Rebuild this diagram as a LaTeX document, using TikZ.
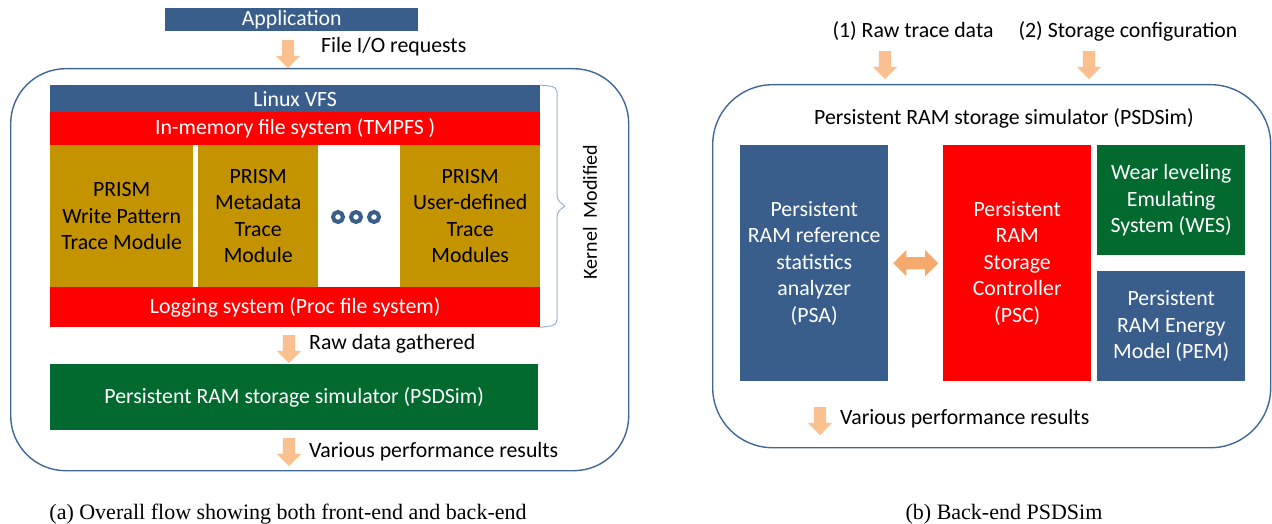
\documentclass[tikz,border=0pt]{standalone}
\usepackage{fontspec}
\setmainfont{Carlito}
\newfontfamily\capfont{Liberation Serif}
\usepackage{tikz}
\usepackage{xcolor}
\usetikzlibrary{calc,shapes.arrows}
\definecolor{vfsblue}{HTML}{3A5E8C}
\definecolor{fsred}{HTML}{FF0000}
\definecolor{prismgold}{HTML}{C49300}
\definecolor{simgreen}{HTML}{036A2F}
\definecolor{flowarrow}{HTML}{FAC090}
\definecolor{linkarrow}{HTML}{F6A96C}
\definecolor{framecol}{HTML}{40679A}
\definecolor{bracecol}{HTML}{95B3D7}
\def\bigfont{\fontsize{21.8}{26.5}\selectfont}
\def\capsize{\fontsize{22}{25}\selectfont\capfont}
\tikzstyle{block} =
  [ rectangle
  , inner sep=0pt
  , anchor=north west
  , align=center
  , font=\bigfont
  ]
\tikzstyle{blue_block}  = [block, fill=vfsblue, text=white]
\tikzstyle{red_block}   = [block, fill=fsred, text=white]
\tikzstyle{gold_block}  = [block, fill=prismgold, text=black]
\tikzstyle{green_block} = [block, fill=simgreen, text=white]
\tikzstyle{frame_box} =
  [ rectangle
  , draw=framecol
  , line width=1.4pt
  , rounded corners=55pt
  , anchor=north west
  ]
\tikzstyle{flow_arrow} =
  [ single arrow
  , fill=flowarrow
  , rotate=-90
  , inner xsep=0pt
  , inner ysep=6pt
  , minimum width=24pt
  , minimum height=28pt
  , single arrow head extend=6pt
  ]
\tikzstyle{link_arrow} =
  [ double arrow
  , fill=linkarrow
  , inner xsep=0pt
  , inner ysep=6pt
  , minimum width=26pt
  , minimum height=45pt
  , double arrow head extend=7pt
  ]
\tikzstyle{note} = [font=\bigfont, inner sep=0pt]
\tikzstyle{dot} =
  [ circle
  , draw=vfsblue
  , line width=4pt
  , fill=white
  , minimum size=10pt
  , inner sep=0pt
  ]

\begin{document}
\begin{tikzpicture}[x=1pt,y=-1pt]
    \useasboundingbox (0,0) rectangle (1272,524);

    % (a) front-end and back-end
    \node[blue_block, minimum width=253pt, minimum height=23pt] (app) at (165,8) {Application};
    \node[flow_arrow] (io_arrow) at (288,51) {};
    \node[note, anchor=west] (io_label) at (321,47) {File I/O requests};

    \node[frame_box, minimum width=618pt, minimum height=402pt] (kernel_frame) at (10,68) {};
    \node[blue_block, minimum width=490pt, minimum height=27pt] (vfs)   at (50,85)  {Linux VFS};
    \node[red_block,  minimum width=490pt, minimum height=33pt] (tmpfs) at (50,112) {In-memory file system (TMPFS )};
    \node[gold_block, minimum width=143pt, minimum height=142pt] (write_mod) at (50,145)  {PRISM\\Write Pattern\\Trace Module};
    \node[gold_block, minimum width=120pt, minimum height=142pt] (meta_mod)  at (198,145) {PRISM\\Metadata\\Trace\\Module};
    \foreach \i/\x in {1/338,2/356,3/374}
      \node[dot] (dot\i) at (\x,217) {};
    \node[gold_block, minimum width=140pt, minimum height=142pt] (user_mod)  at (400,145) {PRISM\\User-defined\\Trace\\Modules};
    \node[red_block,  minimum width=490pt, minimum height=40pt] (logging) at (50,287) {Logging system (Proc file system)};

    \draw[bracecol, line width=1pt, rounded corners=5pt] (vfs.north east) -- (557,87) -- (557,200) -- (565,206);
    \draw[bracecol, line width=1pt, rounded corners=5pt] (565,206) -- (557,212) -- (557,325) -- (logging.south east);
    \node[note, font=\fontsize{20}{22}\selectfont, rotate=90] (kernel_label) at (590,212) {Kernel~~Modified};

    \node[flow_arrow] (raw_arrow) at (289,346) {};
    \node[note, anchor=west] (raw_label) at (309,344) {Raw data gathered};
    \node[green_block, minimum width=488pt, minimum height=66pt] (psdsim) at (50,364) {Persistent RAM storage simulator (PSDSim)};
    \node[flow_arrow] (res_arrow) at (289,449) {};
    \node[note, anchor=west] (res_label) at (309,452) {Various performance results};

    \node[font=\capsize] (cap_a) at (288,514) {(a) Overall flow showing both front-end and back-end};

    % (b) back-end PSDSim
    \node[note] (trace_label)  at (913,31)  {(1) Raw trace data};
    \node[note] (config_label) at (1128,31) {(2) Storage configuration};
    \node[flow_arrow] (trace_arrow)  at (885,62)  {};
    \node[flow_arrow] (config_arrow) at (1089,62) {};

    \node[frame_box, rounded corners=60pt, minimum width=558pt, minimum height=363pt] (sim_frame) at (712,84) {};
    \node[note] (sim_title) at (1004,118) {Persistent RAM storage simulator (PSDSim)};
    \node[blue_block,  minimum width=148pt, minimum height=236pt] (psa) at (740,145)  {Persistent\\RAM reference\\statistics\\analyzer\\(PSA)};
    \node[red_block,   minimum width=148pt, minimum height=236pt] (psc) at (943,145)  {Persistent\\RAM\\Storage\\Controller\\(PSC)};
    \node[green_block, minimum width=148pt, minimum height=110pt] (wes) at (1097,145) {Wear leveling\\Emulating\\System (WES)};
    \node[blue_block,  minimum width=148pt, minimum height=110pt] (pem) at (1097,271) {Persistent\\RAM Energy\\Model (PEM)};
    \node[link_arrow] (psa_psc) at ($(psa.east)!0.5!(psc.west)$) {};

    \node[flow_arrow] (out_arrow) at (820,418) {};
    \node[note, anchor=west] (out_label) at (840,419) {Various performance results};

    \node[font=\capsize] (cap_b) at (1004,514) {(b) Back-end PSDSim};
\end{tikzpicture}
\end{document}
